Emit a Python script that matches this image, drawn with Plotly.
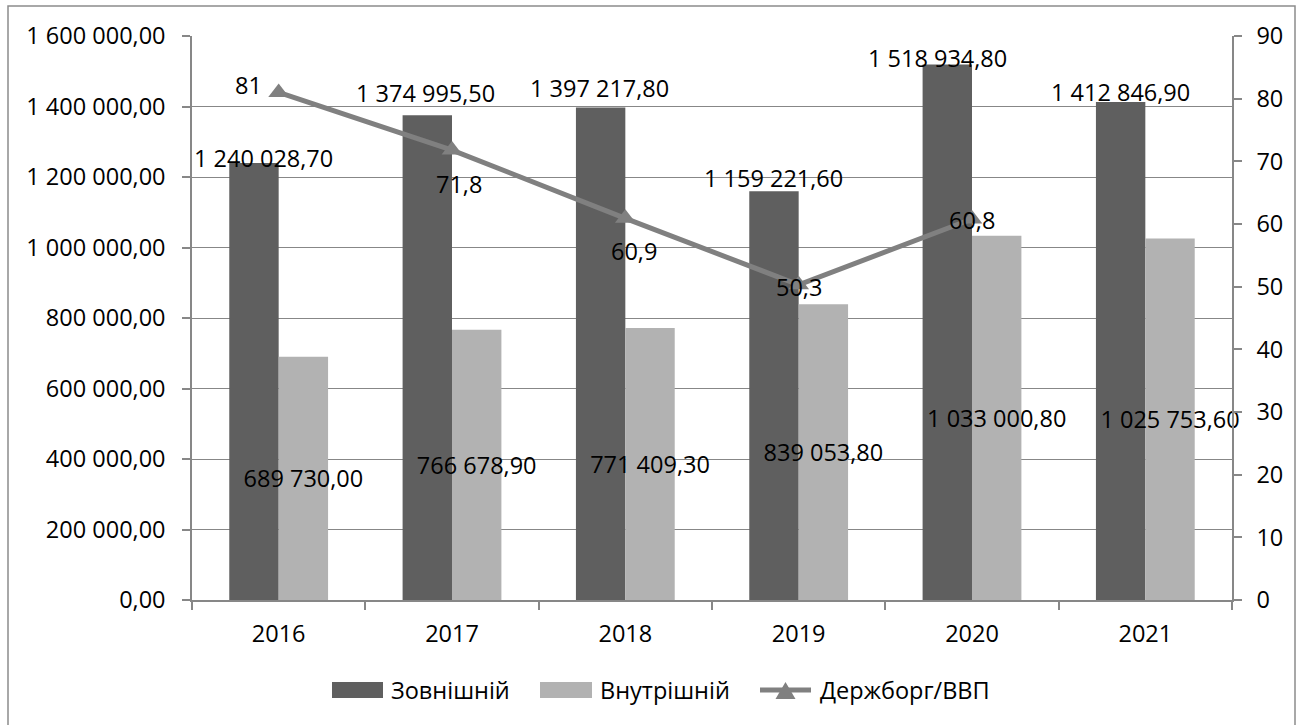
import plotly.graph_objects as go

# Public debt of Ukraine, UAH mn, and debt-to-GDP ratio, %
years = ["2016", "2017", "2018", "2019", "2020", "2021"]
external_debt = [1240028.70, 1374995.50, 1397217.80, 1159221.60, 1518934.80, 1412846.90]
internal_debt = [689730.00, 766678.90, 771409.30, 839053.80, 1033000.80, 1025753.60]
debt_to_gdp = [81, 71.8, 60.9, 50.3, 60.8, None]

series_names = ["Зовнішній", "Внутрішній", "Держборг/ВВП"]

# page geometry
FIG_W, FIG_H = 1305, 725
M_L, M_R, M_T, M_B = 192, 73, 36, 125
PLOT_W = FIG_W - M_L - M_R
PLOT_H = FIG_H - M_T - M_B
BARGAP = 0.43
BAR_W = PLOT_W / len(years) * (1 - BARGAP) / 2

FONT = "Open Sans"
FS = 23.5
GRID = "#878787"
DARK = "#5f5f5f"
LIGHT = "#b2b2b2"
LINE = "#808080"

# label nudges (pixels) for the external-debt labels and the ratio labels
ext_label_shift = [(10, 5), (-2, 22), (-1, 19), (0, 13), (-10, 7), (0, 10)]
ratio_label_shift = [(-30, 7), (7, -34), (9, -33), (0, -2), (0, -1), (0, 0)]


def px_to_paper(x, y):
    return (x - M_L) / PLOT_W, (FIG_H - M_B - y) / PLOT_H


def fmt_money(v):
    s = f"{v:,.2f}"
    return s.replace(",", " ").replace(".", ",")


fig = go.Figure()

fig.add_trace(go.Bar(
    x=years, y=external_debt, name=series_names[0],
    marker=dict(color=DARK, line=dict(width=0)),
))

fig.add_trace(go.Bar(
    x=years, y=internal_debt, name=series_names[1],
    marker=dict(color=LIGHT, line=dict(width=0)),
    texttemplate="%{y:,.2f}", textposition="inside", insidetextanchor="middle",
    textangle=0, constraintext="none", cliponaxis=False,
    insidetextfont=dict(family=FONT, size=FS, color="black"),
))

fig.add_trace(go.Scatter(
    x=years, y=debt_to_gdp, name=series_names[2], yaxis="y2",
    mode="lines+markers",
    line=dict(color=LINE, width=5),
    marker=dict(symbol="triangle-up", size=18, color=LINE),
    cliponaxis=False,
))

annotations = []

# value labels above the external-debt bars (x is the category index)
for i, (v, (dx, dy)) in enumerate(zip(external_debt, ext_label_shift)):
    annotations.append(dict(
        x=i, y=v, xref="x", yref="y", text=fmt_money(v), showarrow=False,
        xanchor="center", yanchor="middle",
        xshift=-BAR_W / 2 + dx, yshift=dy,
        font=dict(family=FONT, size=FS, color="black"),
    ))

# ratio labels
for i, (v, (dx, dy)) in enumerate(zip(debt_to_gdp, ratio_label_shift)):
    if v is None:
        continue
    annotations.append(dict(
        x=i, y=v, xref="x", yref="y2", text=f"{v:g}".replace(".", ","),
        showarrow=False, xanchor="center", yanchor="middle",
        xshift=dx, yshift=dy,
        font=dict(family=FONT, size=FS, color="black"),
    ))

shapes = []

# outer frame of the chart area
fx0, fy0 = px_to_paper(8, 6)
fx1, fy1 = px_to_paper(1295, 740)
shapes.append(dict(type="rect", xref="paper", yref="paper",
                   x0=fx0, y0=fy1, x1=fx1, y1=fy0,
                   line=dict(color="#8c8c8c", width=1.5), layer="below"))

# legend drawn below the plot
LEG_Y = 690
legend_items = [
    ("bar", DARK, 332, 383, 389, series_names[0]),
    ("bar", LIGHT, 540, 592, 598, series_names[1]),
    ("line", LINE, 758, 813, 818, series_names[2]),
]
for kind, color, sx0, sx1, tx, label in legend_items:
    if kind == "bar":
        a = px_to_paper(sx0, LEG_Y - 8)
        b = px_to_paper(sx1, LEG_Y + 8)
        shapes.append(dict(type="rect", xref="paper", yref="paper",
                           x0=a[0], y0=b[1], x1=b[0], y1=a[1],
                           fillcolor=color, line=dict(width=0)))
    else:
        a = px_to_paper(sx0 + 2, LEG_Y)
        b = px_to_paper(sx1 - 2, LEG_Y)
        shapes.append(dict(type="line", xref="paper", yref="paper",
                           x0=a[0], y0=a[1], x1=b[0], y1=b[1],
                           line=dict(color=color, width=5)))
        cx = (sx0 + sx1) / 2
        p1 = px_to_paper(cx - 10, LEG_Y + 9)
        p2 = px_to_paper(cx + 10, LEG_Y + 9)
        p3 = px_to_paper(cx, LEG_Y - 8)
        shapes.append(dict(type="path", xref="paper", yref="paper",
                           path=f"M{p1[0]},{p1[1]} L{p2[0]},{p2[1]} L{p3[0]},{p3[1]} Z",
                           fillcolor=color, line=dict(width=0)))
    t = px_to_paper(tx, LEG_Y)
    annotations.append(dict(x=t[0], y=t[1], xref="paper", yref="paper",
                            text=label, showarrow=False,
                            xanchor="left", yanchor="middle",
                            font=dict(family=FONT, size=FS, color="black")))

fig.update_layout(
    width=FIG_W, height=FIG_H,
    margin=dict(l=M_L, r=M_R, t=M_T, b=M_B, pad=0),
    paper_bgcolor="white", plot_bgcolor="white",
    font=dict(family=FONT, size=FS, color="black"),
    separators=", ",
    barmode="group", bargap=BARGAP, bargroupgap=0,
    uniformtext=dict(minsize=FS, mode="show"),
    showlegend=False,
    annotations=annotations,
    shapes=shapes,
    xaxis=dict(
        type="category", categoryorder="array", categoryarray=years,
        range=[-0.5, len(years) - 0.5],
        showgrid=False, tickson="boundaries",
        ticks="outside", ticklen=8, tickcolor=GRID, tickwidth=1.5,
        showline=True, linecolor=GRID, linewidth=1.5,
        tickfont=dict(size=FS), ticklabelstandoff=12,
    ),
    yaxis=dict(
        range=[0, 1600000], dtick=200000, tickformat=",.2f",
        showgrid=True, gridcolor=GRID, gridwidth=1.3,
        ticks="outside", ticklen=8, tickcolor=GRID, tickwidth=1.5,
        showline=True, linecolor=GRID, linewidth=1.5,
        zeroline=False, tickfont=dict(size=FS), ticklabelstandoff=12,
    ),
    yaxis2=dict(
        range=[0, 90], dtick=10, overlaying="y", side="right",
        showgrid=False, zeroline=False,
        ticks="outside", ticklen=8, tickcolor=GRID, tickwidth=1.5,
        showline=True, linecolor=GRID, linewidth=1.5,
        tickfont=dict(size=FS), ticklabelstandoff=10,
    ),
)

fig.write_html("out.html")
